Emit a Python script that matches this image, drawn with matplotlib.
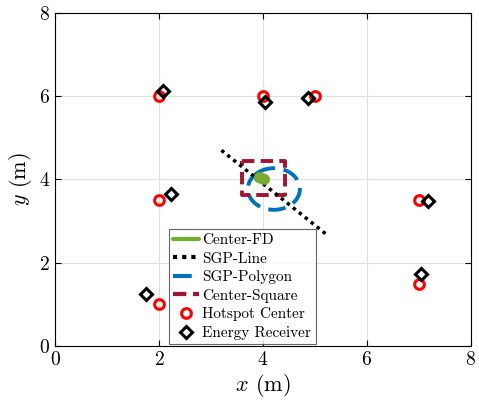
import numpy as np
import matplotlib
matplotlib.use("Agg")
import matplotlib.pyplot as plt

plt.rcParams['font.family'] = ['cmr10', 'DejaVu Serif']
plt.rcParams['mathtext.fontset'] = 'cm'
plt.rcParams['axes.formatter.use_mathtext'] = True

# hotspot centers
hot_x = [2, 4, 5, 2, 7, 2, 7]
hot_y = [6, 6, 6, 3.5, 3.5, 1, 1.5]

# energy receivers
er_x = [2.08, 4.04, 4.87, 2.23, 7.17, 7.04, 1.75]
er_y = [6.13, 5.87, 5.96, 3.65, 3.49, 1.73, 1.25]

# solutions
fd_x = [3.93, 4.03]
fd_y = [4.04, 4.0]
line_x = [3.2, 5.25]
line_y = [4.7, 2.65]
poly_cx, poly_cy, poly_r = 4.21, 3.77, 0.5
sq_x = [3.6, 4.42, 4.42, 3.6, 3.6]
sq_y = [4.45, 4.45, 3.62, 3.62, 4.45]

fig = plt.figure(figsize=(4.79, 4.03), dpi=100)
ax = fig.add_axes([0.115, 0.1414, 0.868, 0.8268])

t = np.linspace(0, 2 * np.pi, 200) + 2.2
ax.plot(fd_x, fd_y, color='#77AC30', lw=8, solid_capstyle='round', label='Center-FD', zorder=5)
ax.plot(line_x, line_y, color='k', ls=(0, (1, 1.2)), lw=2.5, label='SGP-Line', zorder=4)
ax.plot(poly_cx + poly_r * np.cos(t), poly_cy + poly_r * np.sin(t), color='#0072BD',
        ls=(0, (4.5, 2.2)), lw=2.8, label='SGP-Polygon', zorder=3)
ax.plot(sq_x, sq_y, color='#A2142F', ls=(0, (3.2, 1.6)), lw=2.8, label='Center-Square', zorder=3)
ax.plot(hot_x, hot_y, 'o', mfc='none', mec='r', mew=2.2, ms=7, ls='none', label='Hotspot Center')
ax.plot(er_x, er_y, 'D', mfc='none', mec='k', mew=2.2, ms=6, ls='none', label='Energy Receiver')

ax.set_xlim(0, 8)
ax.set_ylim(0, 8)
ax.set_xticks([0, 2, 4, 6, 8])
ax.set_yticks([0, 2, 4, 6, 8])
ax.grid(True, color='#e0e0e0', lw=0.8)
ax.set_axisbelow(True)
ax.tick_params(direction='in', top=True, right=True, labelsize=14, length=4)
for s in ax.spines.values():
    s.set_linewidth(0.8)
ax.set_xlabel('$x$ (m)', fontsize=16, labelpad=2)
ax.set_ylabel('$y$ (m)', fontsize=16, labelpad=4)

leg = ax.legend(loc='lower left', bbox_to_anchor=(0.27, 0.0), fontsize=11, frameon=True,
                fancybox=False, edgecolor='#404040', handlelength=1.7, handletextpad=0.2,
                borderpad=0.3, labelspacing=0.3, borderaxespad=0.1)
leg.get_frame().set_linewidth(0.8)
for h in leg.get_lines()[:4]:
    h.set_linewidth(3)

fig.savefig('out.png', dpi=100)
